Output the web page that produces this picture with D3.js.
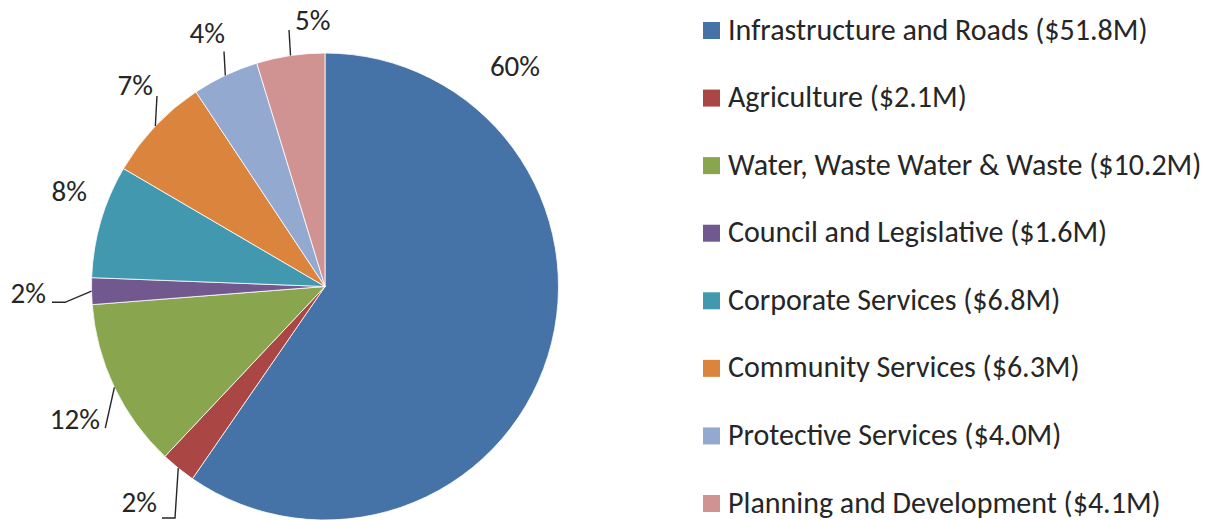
<!DOCTYPE html>
<html>
<head>
<meta charset="utf-8">
<script src="https://cdn.jsdelivr.net/npm/d3@7"></script>
<style>
  body { margin: 0; background: #fff; }
  text { font-family: Calibri, Carlito, "Open Sans", sans-serif; fill: #262626; }
</style>
</head>
<body>
<svg id="chart" width="1225" height="520"></svg>
<script>
// budget categories, in $M
const categories = [
  'Infrastructure and Roads',
  'Agriculture',
  'Water, Waste Water & Waste',
  'Council and Legislative',
  'Corporate Services',
  'Community Services',
  'Protective Services',
  'Planning and Development',
];
const amounts = [51.8, 2.1, 10.2, 1.6, 6.8, 6.3, 4.0, 4.1];
const amountLabels = ['$51.8M', '$2.1M', '$10.2M', '$1.6M', '$6.8M', '$6.3M', '$4.0M', '$4.1M'];
const percentLabels = ['60%', '2%', '12%', '2%', '8%', '7%', '4%', '5%'];
const colors = ['#4572A7', '#AA4643', '#89A54E', '#71588F', '#4198AF', '#DB843D', '#93A9CF', '#D19392'];

// label placement (relative to pie centre), like excel's best fit
const labelLayout = [
  { tx: 190, ty: -210.5, anchor: 'middle', elbow: null },
  { tx: -168, ty: 225.5, anchor: 'end', elbow: [[-150, 231.5], [-163, 231.5]] },
  { tx: -225, ty: 142.5, anchor: 'end', elbow: [[-219.7, 141.5]] },
  { tx: -279, ty: 16.5, anchor: 'end', elbow: [[-260, 15.8], [-273, 15.8]] },
  { tx: -238, ty: -85.5, anchor: 'end', elbow: null },
  { tx: -172, ty: -191.5, anchor: 'end', elbow: [[-168, -190.5]] },
  { tx: -100, ty: -243.5, anchor: 'end', elbow: [[-101, -235]] },
  { tx: -30, ty: -256.5, anchor: 'start', elbow: [[-36, -256.5]] },
];

const cx = 325;
const cy = 286.5;
const radius = 233.5;

const data = categories.map((c, i) => ({ key: c, value: amounts[i], i }));

const svg = d3.select('#chart');

const pie = d3.pie().sort(null).value(d => d.value);
const arc = d3.arc().innerRadius(0).outerRadius(radius);
const color = d3.scaleOrdinal().domain(categories).range(colors);

const g = svg.append('g').attr('transform', `translate(${cx} ${cy})`);
const arcs = pie(data);

g.selectAll('.slice')
  .data(arcs)
  .enter()
  .append('path')
  .classed('slice', true)
  .attr('d', arc)
  .attr('fill', d => color(d.data.key))
  .attr('stroke', '#fff')
  .attr('stroke-width', 0.8);

// leader lines start on the rim at the slice's mid angle
const rim = d => {
  const a = (d.startAngle + d.endAngle) / 2;
  return [Math.sin(a) * radius, -Math.cos(a) * radius];
};
const lineGen = d3.line();

g.selectAll('.leader')
  .data(arcs.filter(d => labelLayout[d.index].elbow))
  .enter()
  .append('path')
  .classed('leader', true)
  .attr('d', d => lineGen([rim(d)].concat(labelLayout[d.index].elbow)))
  .attr('fill', 'none')
  .attr('stroke', '#262626')
  .attr('stroke-width', 1.4);

g.selectAll('.label')
  .data(arcs)
  .enter()
  .append('text')
  .classed('label', true)
  .attr('x', d => labelLayout[d.index].tx)
  .attr('y', d => labelLayout[d.index].ty)
  .attr('text-anchor', d => labelLayout[d.index].anchor)
  .style('font-size', '29px')
  .text(d => percentLabels[d.index]);

// legend
const legendY = d3.scalePoint().domain(categories).range([30.5, 503.5]);
const legend = svg.append('g').attr('transform', 'translate(703 0)');

const item = legend.selectAll('.item')
  .data(data)
  .enter()
  .append('g')
  .classed('item', true)
  .attr('transform', d => `translate(0 ${legendY(d.key)})`);

item.append('rect')
  .attr('x', 0)
  .attr('y', -8.5)
  .attr('width', 17)
  .attr('height', 17)
  .attr('fill', d => color(d.key));

item.append('text')
  .attr('x', 25)
  .attr('y', 9)
  .style('font-size', '30px')
  .text(d => `${d.key} (${amountLabels[d.i]})`);
</script>
</body>
</html>
